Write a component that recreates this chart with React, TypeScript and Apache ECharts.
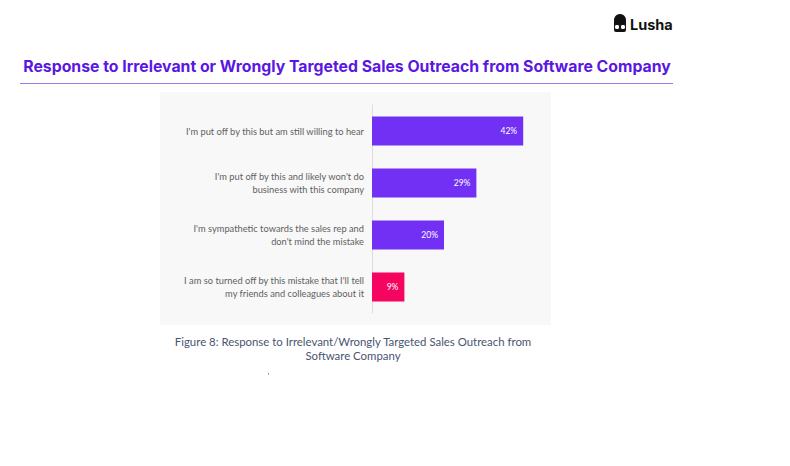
import React, { useEffect, useRef } from "react";
import * as echarts from "echarts";

const categories = [
  "I'm put off by this but am still willing to hear",
  "I'm put off by this and likely won't do\nbusiness with this company",
  "I'm sympathetic towards the sales rep and\ndon't mind the mistake",
  "I am so turned off by this mistake that I'll tell\nmy friends and colleagues about it",
];
const values = [42, 29, 20, 9];
const barColors = ["#7330f5", "#7330f5", "#7330f5", "#f5055f"];

export default function App() {
  const ref = useRef<HTMLDivElement>(null);
  useEffect(() => {
    const chart = echarts.init(ref.current!, null, { renderer: "svg" });
    chart.setOption({
      animation: false,
      backgroundColor: "#ffffff",
      graphic: [
        {
          type: "rect",
          shape: { x: 160, y: 92, width: 391, height: 233 },
          style: { fill: "#f8f8f8" },
          z: -10,
        },
        {
          type: "text",
          x: 347,
          y: 66,
          style: {
            text: "Response to Irrelevant or Wrongly Targeted Sales Outreach from Software Company",
            font: "bold 15.8px Inter",
            fill: "#5a17e3",
            align: "center",
            verticalAlign: "middle",
          },
        },
        {
          type: "line",
          shape: { x1: 20, y1: 83.5, x2: 673, y2: 83.5 },
          style: { stroke: "#9b78ee", lineWidth: 1 },
        },
        {
          type: "text",
          x: 353,
          y: 348,
          style: {
            text: "Figure 8: Response to Irrelevant/Wrongly Targeted Sales Outreach from\nSoftware Company",
            font: "11.4px Lato",
            fill: "#4a5570",
            align: "center",
            verticalAlign: "middle",
            lineHeight: 14,
          },
        },
        {
          type: "rect",
          shape: { x: 268, y: 373, width: 1, height: 1.5 },
          style: { fill: "#888" },
        },
        {
          type: "group",
          x: 613,
          y: 14,
          children: [
            { type: "circle", shape: { cx: 7, cy: 6, r: 6 }, style: { fill: "#111" } },
            { type: "rect", shape: { x: 1, y: 6, width: 12, height: 12, r: 2 }, style: { fill: "#111" } },
            { type: "circle", shape: { cx: 4, cy: 13, r: 2.6 }, style: { fill: "#fff", stroke: "#111", lineWidth: 1 } },
            { type: "circle", shape: { cx: 10, cy: 13, r: 2.6 }, style: { fill: "#fff", stroke: "#111", lineWidth: 1 } },
          ],
        },
        {
          type: "text",
          x: 630,
          y: 24,
          style: {
            text: "Lusha",
            font: "bold 14.5px Inter",
            fill: "#111",
            align: "left",
            verticalAlign: "middle",
          },
        },
      ],
      grid: { left: 372, right: 238, top: 105, height: 208, containLabel: false },
      xAxis: {
        type: "value",
        min: 0,
        max: 50,
        show: false,
      },
      yAxis: {
        type: "category",
        data: categories,
        inverse: true,
        axisLine: { show: true, lineStyle: { color: "#dddddd", width: 1 } },
        axisTick: { show: false },
        axisLabel: {
          color: "#5f5f5f",
          fontSize: 9.3,
          fontFamily: "Lato",
          lineHeight: 13,
          align: "right",
          margin: 8,
        },
      },
      series: [
        {
          type: "bar",
          data: values.map((v, i) => ({ value: v, itemStyle: { color: barColors[i] } })),
          barWidth: 29,
          label: {
            show: true,
            position: "insideRight",
            formatter: "{c}%",
            color: "#ffffff",
            fontSize: 8.5,
            fontFamily: "Lato",
            distance: 6,
          },
        },
      ],
    });
    return () => chart.dispose();
  }, []);
  return (
    <div
      ref={ref}
      style={{ position: "fixed", left: 0, top: 0, width: 790, height: 466 }}
    />
  );
}
